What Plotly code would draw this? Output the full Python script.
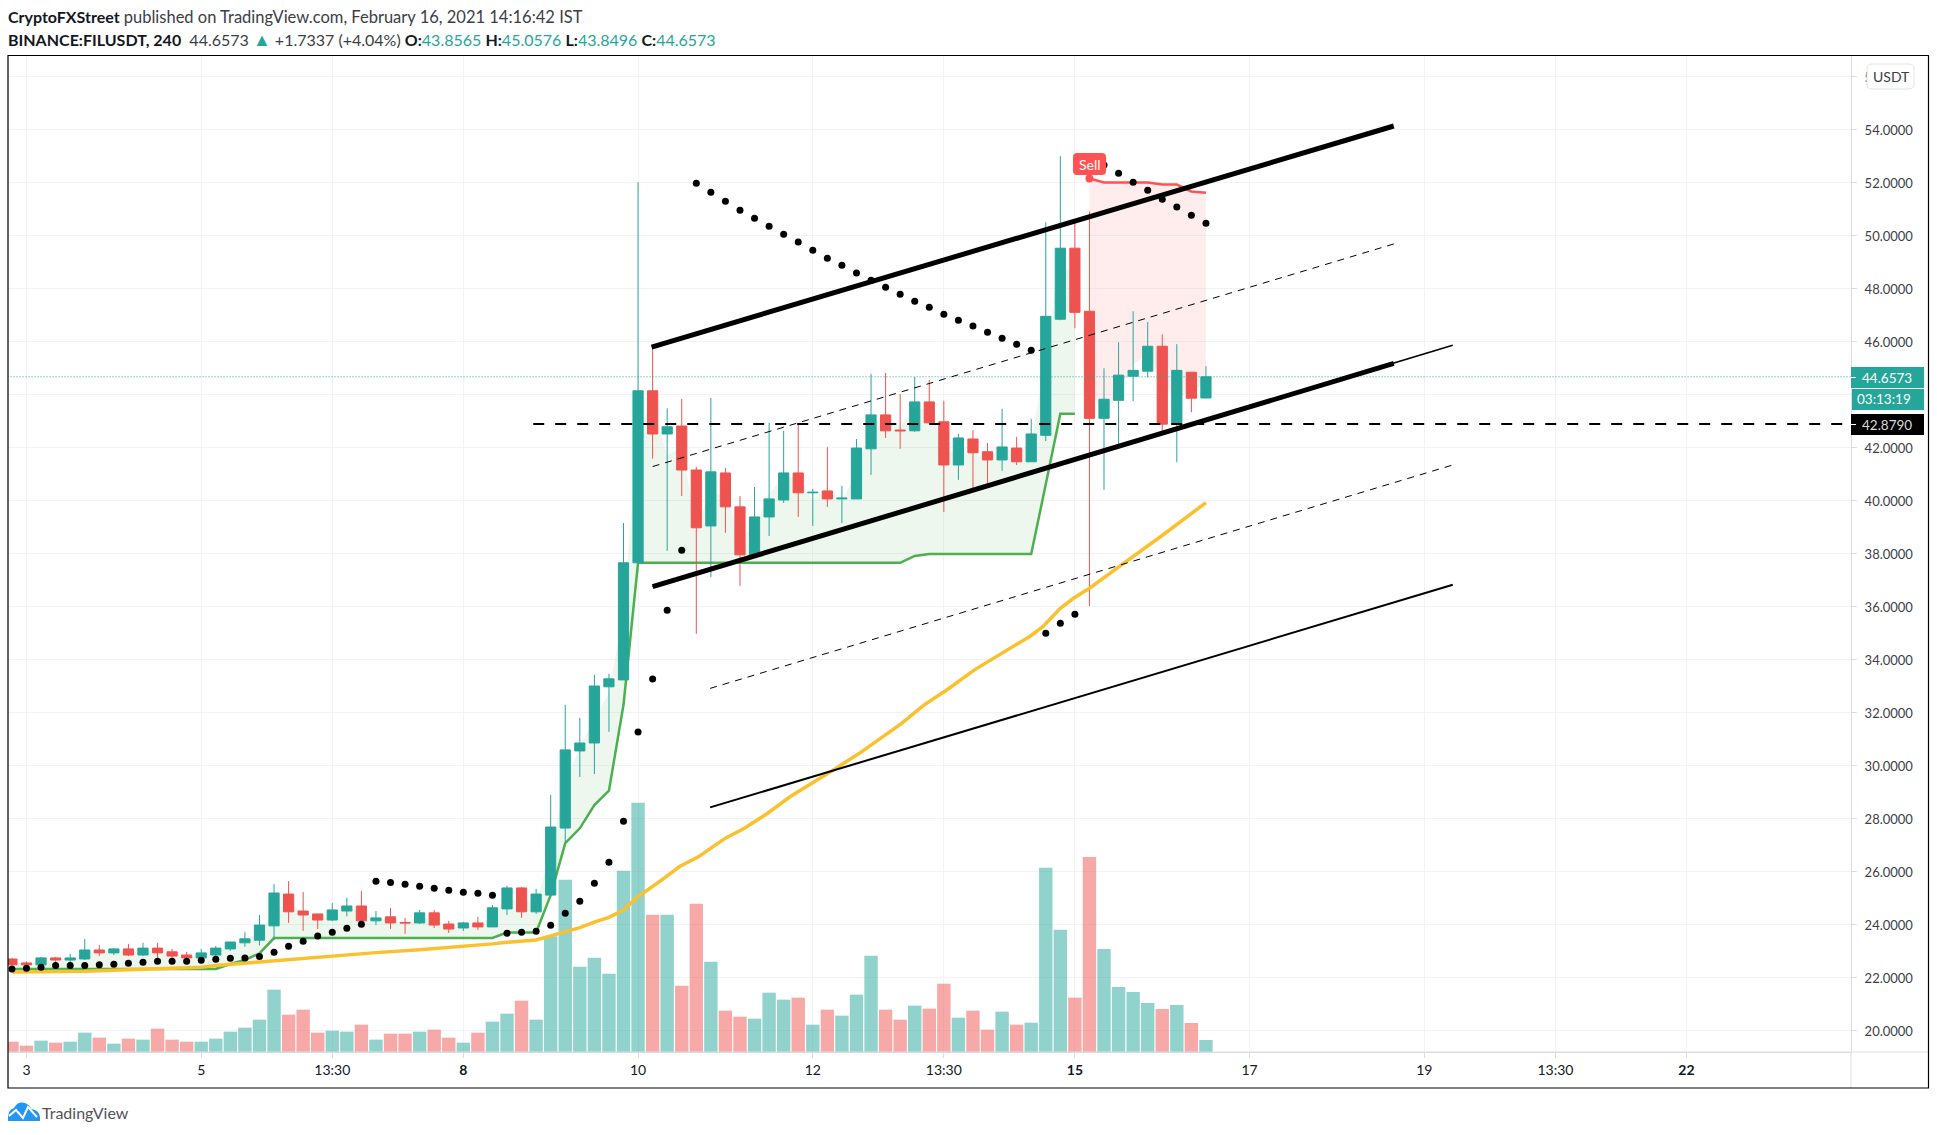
import plotly.graph_objects as go

# ---------- data (x = 4-hour bar number) ----------
opens = [22.69,22.54,22.47,22.73,22.65,22.69,23.03,22.92,23.07,22.84,23.10,22.96,22.84,22.73,22.84,23.07,23.30,23.40,23.94,25.14,
         24.50,24.39,24.16,24.50,24.69,24.13,24.28,24.07,24.05,24.43,24.01,23.86,24.05,23.90,24.58,25.37,24.47,25.10,27.63,30.54,
         30.84,32.96,33.22,37.64,44.13,42.50,42.80,41.14,39.03,41.03,39.75,37.94,39.37,40.01,41.03,40.28,40.35,40.05,40.05,41.94,
         43.22,42.65,42.62,43.71,42.96,41.33,42.31,41.83,41.52,41.97,41.45,42.45,46.83,49.51,47.13,43.09,43.77,44.68,44.87,45.81,
         42.90,44.83,43.8565]
highs = [22.73,22.60,22.77,22.77,22.88,23.45,23.22,23.10,23.26,23.30,23.30,23.07,22.96,23.07,23.18,23.33,23.70,24.35,25.52,25.63,
         25.22,24.39,24.80,25.00,25.26,24.50,24.62,24.24,24.54,24.54,24.13,24.09,24.28,24.73,25.45,25.41,25.33,28.88,32.28,31.79,
         33.41,33.45,39.14,52.00,45.80,43.47,43.82,41.26,43.86,41.22,40.16,40.50,42.92,42.62,42.88,40.43,42.00,40.54,42.31,44.77,
         44.80,44.01,44.65,44.54,43.75,42.50,42.65,42.16,43.45,42.39,43.07,50.49,52.98,50.60,50.90,44.98,45.96,47.13,46.72,46.26,
         45.89,44.83,45.0576]
lows = [22.47,22.38,22.40,22.50,22.50,22.65,22.80,22.84,22.80,22.80,22.55,22.65,22.60,22.55,22.65,23.00,23.15,23.20,23.40,24.05,
        23.75,23.82,24.13,24.30,23.97,23.97,23.82,23.64,24.01,23.86,23.67,23.75,23.79,23.90,24.35,24.24,24.39,25.10,27.10,29.56,
        29.67,31.26,33.22,37.64,41.57,38.09,40.16,34.96,37.10,38.77,36.77,37.94,38.65,39.90,39.37,39.03,39.75,39.14,40.05,40.96,
        42.35,41.94,42.58,42.92,39.56,40.77,40.43,40.62,41.11,41.33,41.45,42.23,46.79,46.49,36.01,40.39,42.08,43.74,44.64,42.57,
        41.43,43.32,43.8496]
closes = [22.47,22.47,22.73,22.65,22.73,23.03,22.92,23.07,22.84,23.10,22.92,22.80,22.73,22.92,23.10,23.33,23.45,23.97,25.18,24.47,
          24.35,24.16,24.54,24.69,24.13,24.24,24.05,24.05,24.43,23.97,23.82,24.05,23.90,24.62,25.37,24.47,25.14,27.67,30.58,30.84,
          32.99,33.26,37.64,44.13,42.50,42.77,41.14,38.96,41.07,39.75,37.94,39.37,40.05,41.03,40.28,40.30,40.05,40.08,41.97,43.22,
          42.62,42.62,43.71,42.92,41.33,42.35,41.79,41.52,42.01,41.45,42.50,46.94,49.51,47.09,43.09,43.81,44.72,44.90,45.81,42.87,
          44.90,43.85,44.6573]
volume = [31,19,34,28,31,58,43,25,40,37,70,37,31,31,40,61,73,97,187,112,127,58,64,61,82,37,55,55,61,67,43,28,58,91,115,154,97,
          347,517,256,283,235,544,748,412,412,199,445,271,124,106,100,178,157,163,82,127,109,172,289,127,97,139,130,205,103,124,
          67,121,82,88,553,367,163,585,309,195,180,147,129,141,87,36]
sar = [22.31,22.34,22.38,22.44,22.44,22.44,22.47,22.49,22.53,22.57,22.60,22.60,22.60,22.64,22.68,22.72,22.73,22.78,22.94,23.17,
       23.36,23.56,23.70,23.85,24.00,25.62,25.58,25.51,25.43,25.36,25.28,25.21,25.17,25.09,23.66,23.70,23.74,23.96,24.42,24.87,
       25.55,26.34,27.89,31.25,33.25,35.85,38.11,51.96,51.62,51.28,50.94,50.64,50.34,50.04,49.74,49.43,49.13,48.87,48.57,48.30,
       48.04,47.77,47.51,47.28,47.02,46.79,46.57,46.34,46.11,45.89,45.66,34.98,35.36,35.70,52.95,52.65,52.34,52.00,51.70,51.36,
       51.06,50.75,50.45]
st_up = [22.31,22.31,22.31,22.31,22.31,22.31,22.31,22.31,22.31,22.31,22.31,22.31,22.31,22.31,22.31,22.50,22.65,22.90,23.48,23.48,
         23.48,23.48,23.48,23.48,23.48,23.48,23.48,23.48,23.48,23.48,23.48,23.48,23.48,23.48,23.69,23.69,23.69,25.10,27.06,27.62,
         28.50,29.04,32.28,37.64,37.64,37.64,37.64,37.64,37.64,37.64,37.64,37.64,37.64,37.64,37.64,37.64,37.64,37.64,37.64,37.64,
         37.64,37.64,37.90,37.97,37.97,37.97,37.97,37.97,37.97,37.97,37.97,40.60,43.26,43.26]
st_down = [52.14,51.99,51.99,51.99,51.99,51.91,51.91,51.65,51.60]
st_down_bars = [74,75,76,77,78,79,80,81,82]
ema_bars = [0,5,13,14,17,20,22,25,28,31,33,34,36,37,38,39,40,41,42,43,44.8,45.85,47.15,47.95,49,50.3,51.9,53.46,55.05,56.6,58.2,59.8,61.1,62.65,64.2,66.1,67.65,69.9,70.8,72,72.9,74,76.2,78.9,82]
ema_vals = [22.20,22.23,22.38,22.44,22.58,22.72,22.82,22.93,23.04,23.16,23.26,23.32,23.41,23.56,23.72,23.87,24.08,24.26,24.54,25.04,25.74,26.18,26.55,26.87,27.25,27.62,28.19,28.82,29.38,29.89,30.45,31.08,31.58,32.28,32.84,33.60,34.10,34.86,35.23,35.92,36.30,36.68,37.56,38.63,39.91]

upper_x = [43.93,94.9];   upper_y = [45.78,54.12]
lower_x = [44.0,94.9];    lower_y = [36.74,45.16]
lowext_x = [44.0,98.95];  lowext_y = [36.74,45.85]
mid1_x = [44.0,94.9];     mid1_y = [41.27,49.67]
mid2_x = [47.95,98.95];   mid2_y = [32.90,41.33]
bottom_x = [47.95,98.95]; bottom_y = [28.41,36.81]
level_x = [35.8,126.3];   level_y = [42.879,42.879]
last_x = [-0.3,126.3];    last_y = [44.6573,44.6573]

xtick_bars = [1,13,22,31,43,55,64,73,85,97,106,115]
xtick_text = ["3","5","13:30","<b>8</b>","10","12","13:30","<b>15</b>","17","19","13:30","<b>22</b>"]
ytick_vals = [20,22,24,26,28,30,32,34,36,38,40,42,44,46,48,50,52,54,56]
ytick_text = ["20.0000","22.0000","24.0000","26.0000","28.0000","30.0000","32.0000","34.0000","36.0000","38.0000","40.0000","42.0000","",
              "46.0000","48.0000","50.0000","52.0000","54.0000","5"]

# ---------- styles ----------
UP, DOWN = "#26a69a", "#ef5350"
W, H = 1937, 1135
L, R, T, B = 8, 1851, 55, 1052
def px(x): return (x - L) / (R - L)
def py(y): return (B - y) / (B - T)
bars = list(range(len(closes)))
ohlc4 = [(o + h + l + c) / 4 for o, h, l, c in zip(opens, highs, lows, closes)]
PR = [19.18, 56.80]

fig = go.Figure()
fig.add_bar(x=bars, y=volume, yaxis="y", showlegend=False,
            marker=dict(color=["rgba(38,166,154,0.5)" if c >= o else "rgba(239,83,80,0.5)" for o, c in zip(opens, closes)], line_width=0))
# supertrend fills and lines, below the candles
fig.add_scatter(x=bars[:74], y=ohlc4[:74], yaxis="y2", mode="lines", line=dict(width=0, color="rgba(0,0,0,0)"))
fig.add_scatter(x=bars[:74], y=st_up, yaxis="y2", mode="lines", line=dict(width=2.5, color="#4caf50"),
                fill="tonexty", fillcolor="rgba(76,175,80,0.10)")
fig.add_scatter(x=st_down_bars, y=ohlc4[74:], yaxis="y2", mode="lines", line=dict(width=0, color="rgba(0,0,0,0)"))
fig.add_scatter(x=st_down_bars, y=st_down, yaxis="y2", mode="lines", line=dict(width=2.5, color="#ff5252"),
                fill="tonexty", fillcolor="rgba(255,82,82,0.10)")
fig.add_candlestick(x=bars, open=opens, high=highs, low=lows, close=closes, yaxis="y3", whiskerwidth=0,
                    increasing=dict(line=dict(color=UP, width=1), fillcolor=UP),
                    decreasing=dict(line=dict(color=DOWN, width=1), fillcolor=DOWN))
# indicators and drawings, above the candles
fig.add_scatter(x=ema_bars, y=ema_vals, yaxis="y4", mode="lines", line=dict(width=3.5, color="#fbc02d"))
fig.add_scatter(x=bars, y=sar, yaxis="y4", mode="markers", marker=dict(size=7, color="#000000"))
fig.add_scatter(x=last_x, y=last_y, yaxis="y4", mode="lines", line=dict(width=1, color=UP, dash="1px,2px"))
fig.add_scatter(x=level_x, y=level_y, yaxis="y4", mode="lines", line=dict(width=2, color="#000000", dash="11px,11px"))
fig.add_scatter(x=mid1_x, y=mid1_y, yaxis="y4", mode="lines", line=dict(width=1, color="#000000", dash="7px,6px"))
fig.add_scatter(x=mid2_x, y=mid2_y, yaxis="y4", mode="lines", line=dict(width=1, color="#000000", dash="7px,6px"))
fig.add_scatter(x=bottom_x, y=bottom_y, yaxis="y4", mode="lines", line=dict(width=2, color="#000000"))
fig.add_scatter(x=lowext_x, y=lowext_y, yaxis="y4", mode="lines", line=dict(width=1.5, color="#000000"))
fig.add_scatter(x=lower_x, y=lower_y, yaxis="y4", mode="lines", line=dict(width=5, color="#000000"))
fig.add_scatter(x=upper_x, y=upper_y, yaxis="y4", mode="lines", line=dict(width=5, color="#000000"))
fig.add_scatter(x=[st_down_bars[0]], y=[st_down[0]], yaxis="y4", mode="markers", marker=dict(size=8, color="#ff5252"))

GRID = "#f1f3f6"
AXIS = "#dadde2"
TICKF = dict(family="Lato, sans-serif", size=13, color="#3a3e48")
fig.update_layout(
    width=W, height=H, margin=dict(l=L, r=W - R, t=T, b=H - B), autosize=False,
    paper_bgcolor="#ffffff", plot_bgcolor="#ffffff", showlegend=False, hovermode=False, bargap=0.08, boxgap=0.3, boxgroupgap=0,
    xaxis=dict(range=[-0.27, 126.3], tickmode="array", tickvals=xtick_bars, ticktext=xtick_text, ticks="outside", ticklen=5,
               tickcolor=AXIS, showline=True, linecolor=AXIS, linewidth=1, showgrid=True, gridcolor=GRID, gridwidth=1,
               zeroline=False, rangeslider=dict(visible=False), tickfont=dict(family="Lato, sans-serif", size=14, color="#131722")),
    yaxis=dict(range=[0, 2991], visible=False, showgrid=False, zeroline=False),
    yaxis2=dict(range=PR, overlaying="y", side="right", tickmode="array", tickvals=ytick_vals, ticktext=ytick_text,
                ticks="outside", ticklen=5, tickcolor=AXIS, showline=True, linecolor=AXIS, linewidth=1, showgrid=True, gridcolor=GRID,
                gridwidth=1, zeroline=False, tickfont=TICKF, ticklabelstandoff=5, ticklabelshift=1),
    yaxis3=dict(range=PR, overlaying="y", visible=False, showgrid=False, zeroline=False),
    yaxis4=dict(range=PR, overlaying="y", visible=False, showgrid=False, zeroline=False),
)

def rrect(x0, y0, x1, y1, r, fill, line=None):
    X0, X1, Y0, Y1 = px(x0), px(x1), py(y0), py(y1)
    rx, ry = r / (R - L), r / (B - T)
    path = (f"M {X0+rx} {Y0} L {X1-rx} {Y0} Q {X1} {Y0} {X1} {Y0-ry} L {X1} {Y1+ry} Q {X1} {Y1} {X1-rx} {Y1} "
            f"L {X0+rx} {Y1} Q {X0} {Y1} {X0} {Y1+ry} L {X0} {Y0-ry} Q {X0} {Y0} {X0+rx} {Y0} Z")
    return dict(type="path", xref="paper", yref="paper", path=path, fillcolor=fill, line=dict(width=1 if line else 0, color=line or fill), layer="above")

def rect(x0, y0, x1, y1, fill=None, line=None, w=1):
    return dict(type="rect", xref="paper", yref="paper", x0=px(x0), x1=px(x1), y0=py(y1), y1=py(y0),
                fillcolor=fill or "rgba(0,0,0,0)", line=dict(width=w if line else 0, color=line or "rgba(0,0,0,0)"), layer="above")

def hline(x0, x1, y, color, w=1):
    return dict(type="line", xref="paper", yref="paper", x0=px(x0), x1=px(x1), y0=py(y), y1=py(y), line=dict(width=w, color=color), layer="above")

def vline(x, y0, y1, color, w=1):
    return dict(type="line", xref="paper", yref="paper", x0=px(x), x1=px(x), y0=py(y0), y1=py(y1), line=dict(width=w, color=color), layer="above")

cloud = (f"M {px(8)} {py(1121)} Q {px(7)} {py(1110)} {px(14)} {py(1108)} Q {px(18)} {py(1101)} {px(25)} {py(1103)} "
         f"Q {px(30)} {py(1105)} {px(31)} {py(1109)} Q {px(41)} {py(1110)} {px(40)} {py(1121)} Z")
zig = (f"M {px(9)} {py(1116)} L {px(16)} {py(1110)} L {px(23)} {py(1118)} L {px(28)} {py(1107)} L {px(37)} {py(1117)}")

shapes = [
    hline(L, 1928, B, AXIS), vline(R, B, 1088, AXIS),
    rect(8, 55.5, 1928.5, 1088, None, "#000000", 1.2),
    rect(R, 367, 1924, 388, UP), rect(R + 1, 389, 1924, 410, UP), rect(R, 414, 1924, 435, "#000000"),
    hline(R, R + 5, 377.5, "#ffffff"), hline(R, R + 5, 424.5, "#ffffff"),
    rrect(1867, 64, 1914, 89, 5, "#ffffff", "#e0e3eb"),
    rrect(1073, 153, 1106, 175, 4, "#ff5252"),
    dict(type="path", xref="paper", yref="paper", path=cloud, fillcolor="#2196f3", line=dict(width=0), layer="above"),
    dict(type="path", xref="paper", yref="paper", path=zig, line=dict(width=2, color="#ffffff"), layer="above"),
]

def note(x, y, text, color, size=14, fam="Lato, sans-serif", anchor="left"):
    return dict(xref="paper", yref="paper", x=px(x), y=py(y), text=text, showarrow=False, xanchor=anchor, yanchor="middle",
                font=dict(family=fam, size=size, color=color), align="left", borderpad=0, borderwidth=0)

T1 = "#3a3e48"
h1 = ('<b style="color:#131722">CryptoFXStreet</b> <span style="font-size:16.5px">published on TradingView.com, February 16, 2021 14:16:42 IST</span>')
v = lambda s: f'<span style="color:{UP}">{s}</span>'
h2 = ('<b style="color:#131722">BINANCE:FILUSDT, 240</b>  44.6573 <span style="color:' + UP + ';font-size:18px">▲</span> +1.7337 (+4.04%) <b style="color:#131722">O:</b>' + v("43.8565") +
      ' <b style="color:#131722">H:</b>' + v("45.0576") + ' <b style="color:#131722">L:</b>' + v("43.8496") + ' <b style="color:#131722">C:</b>' + v("44.6573"))
annots = [
    note(8, 17, h1, T1, 16), note(8, 39, h2, T1, 16),
    note(1862, 377.5, "44.6573", "#ffffff", 13.5), note(1857, 399.5, "03:13:19", "#ffffff", 13.5), note(1862, 424.5, "42.8790", "#d8d8d8", 13.5),
    note(1873, 76, "USDT", "#3a3e48"),
    note(1089.5, 164, "Sell", "#ffffff", 14, anchor="center"),
    note(42, 1112, "TradingView", "#50535e", 16),
]
fig.update_layout(shapes=shapes, annotations=annots)
fig.write_html("out.html", config=dict(displayModeBar=False), post_script="document.body.style.margin='0';")
